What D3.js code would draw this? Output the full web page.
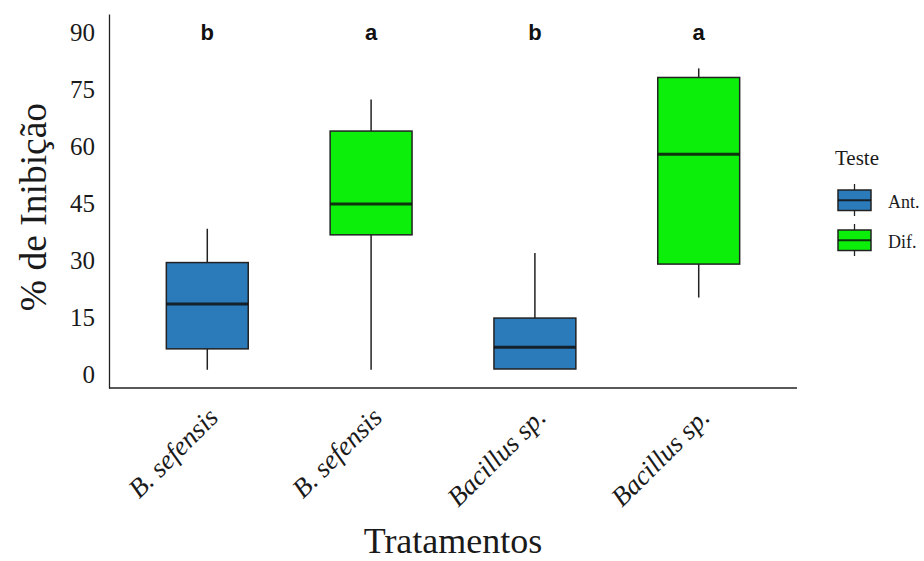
<!DOCTYPE html>
<html>
<head>
<meta charset="utf-8">
<script src="https://cdn.jsdelivr.net/npm/d3@7"></script>
<style>
  body { margin: 0; background: #fff; }
</style>
</head>
<body>
<div id="chart"></div>
<script>
// treatment labels (x axis), one box per treatment
const tratamentos = ["B. sefensis", "B. sefensis", "Bacillus sp.", "Bacillus sp."];
const teste = ["Ant.", "Dif.", "Ant.", "Dif."];
const letras = ["b", "a", "b", "a"];

// box statistics (% inhibition)
const minimos = [1.3, 1.3, 1.5, 20.3];
const q1s = [6.8, 36.8, 1.5, 29.1];
const medianas = [18.6, 44.9, 7.2, 58.0];
const q3s = [29.5, 64.1, 14.9, 78.2];
const maximos = [38.4, 72.4, 32.0, 80.6];

const yTicks = [0, 15, 30, 45, 60, 75, 90];
const grupos = ["Ant.", "Dif."];

const width = 924, height = 561;
const margin = { top: 14, right: 127, bottom: 173, left: 109 };

const color = d3.scaleOrdinal()
    .domain(grupos)
    .range(["#2b7bba", "#0bef0b"]);

const svg = d3.select("#chart")
    .append("svg")
    .attr("width", width)
    .attr("height", height);

const x = d3.scalePoint()
    .domain(d3.range(tratamentos.length))
    .range([margin.left, width - margin.right])
    .padding(0.6);

const y = d3.scaleLinear()
    .domain([-3.5, 94.9])
    .range([height - margin.bottom, margin.top]);

const boxW = x.step() * 0.5;

const boxes = tratamentos.map((t, i) => ({
    i, t, g: teste[i], letra: letras[i],
    min: minimos[i], q1: q1s[i], med: medianas[i], q3: q3s[i], max: maximos[i]
}));

// axes
const yAxis = svg.append("g")
    .attr("transform", `translate(${margin.left},0)`)
    .call(d3.axisLeft(y).tickValues(yTicks).tickSize(0).tickSizeOuter(0).tickPadding(14));
yAxis.select(".domain").attr("stroke", "#222").attr("stroke-width", 1.3);
yAxis.selectAll("text")
    .attr("font-family", "'Liberation Serif', 'Times New Roman', serif")
    .attr("font-size", "25px")
    .attr("fill", "#1a1a1a");

const xAxis = svg.append("g")
    .attr("transform", `translate(0,${height - margin.bottom})`)
    .call(d3.axisBottom(x).tickSize(0).tickSizeOuter(0).tickFormat(i => tratamentos[i]));
xAxis.select(".domain")
    .attr("d", `M${margin.left},0H${width - margin.right}`)
    .attr("stroke", "#222").attr("stroke-width", 1.3);
xAxis.selectAll("text")
    .attr("font-family", "'Liberation Serif', 'Times New Roman', serif")
    .attr("font-style", "italic")
    .attr("font-size", "27px")
    .attr("fill", "#1a1a1a")
    .attr("text-anchor", "end")
    .attr("dy", null)
    .attr("y", 0)
    .attr("transform", "translate(12,31) rotate(-45)");

// boxes
const g = svg.selectAll(".box")
    .data(boxes)
    .enter()
    .append("g")
    .attr("class", "box");

g.append("line")
    .attr("x1", d => x(d.i)).attr("x2", d => x(d.i))
    .attr("y1", d => y(d.max)).attr("y2", d => y(d.q3))
    .attr("stroke", "#222").attr("stroke-width", 1.5);

g.append("line")
    .attr("x1", d => x(d.i)).attr("x2", d => x(d.i))
    .attr("y1", d => y(d.q1)).attr("y2", d => y(d.min))
    .attr("stroke", "#222").attr("stroke-width", 1.5);

g.append("rect")
    .attr("x", d => x(d.i) - boxW / 2)
    .attr("width", boxW)
    .attr("y", d => y(d.q3))
    .attr("height", d => y(d.q1) - y(d.q3))
    .attr("fill", d => color(d.g))
    .attr("stroke", "#222")
    .attr("stroke-width", 1.5);

g.append("line")
    .attr("x1", d => x(d.i) - boxW / 2).attr("x2", d => x(d.i) + boxW / 2)
    .attr("y1", d => y(d.med)).attr("y2", d => y(d.med))
    .attr("stroke", "#111").attr("stroke-opacity", 0.85).attr("stroke-width", 3);

// significance letters
svg.selectAll(".letra")
    .data(boxes)
    .enter()
    .append("text")
    .attr("class", "letra")
    .attr("x", d => x(d.i))
    .attr("y", y(90))
    .attr("dy", "0.35em")
    .attr("text-anchor", "middle")
    .attr("font-family", "'Liberation Sans', Arial, sans-serif")
    .attr("font-weight", "bold")
    .attr("font-size", "22px")
    .attr("fill", "#111")
    .text(d => d.letra);

// axis titles
svg.append("text")
    .attr("x", (margin.left + width - margin.right) / 2)
    .attr("y", 553)
    .attr("text-anchor", "middle")
    .attr("font-family", "'Liberation Serif', 'Times New Roman', serif")
    .attr("font-size", "36px")
    .attr("fill", "#1a1a1a")
    .text("Tratamentos");

svg.append("text")
    .attr("transform", `translate(46,${(margin.top + height - margin.bottom) / 2 + 6}) rotate(-90)`)
    .attr("text-anchor", "middle")
    .attr("font-family", "'Liberation Serif', 'Times New Roman', serif")
    .attr("font-size", "37.5px")
    .attr("fill", "#1a1a1a")
    .text("% de Inibição");

// legend
const legend = svg.append("g").attr("transform", "translate(835,0)");
legend.append("text")
    .attr("x", 0).attr("y", 165)
    .attr("font-family", "'Liberation Serif', 'Times New Roman', serif")
    .attr("font-size", "21px")
    .attr("fill", "#1a1a1a")
    .text("Teste");

const item = legend.selectAll(".item")
    .data(grupos)
    .enter()
    .append("g")
    .attr("class", "item")
    .attr("transform", (d, i) => `translate(3,${184 + i * 40})`);

item.append("line")
    .attr("x1", 16.5).attr("x2", 16.5).attr("y1", 0).attr("y2", 32)
    .attr("stroke", "#222").attr("stroke-width", 1.3);
item.append("rect")
    .attr("x", 0).attr("y", 6).attr("width", 33).attr("height", 20.5)
    .attr("fill", d => color(d)).attr("stroke", "#222").attr("stroke-width", 1.5);
item.append("line")
    .attr("x1", 0).attr("x2", 33).attr("y1", 16.25).attr("y2", 16.25)
    .attr("stroke", "#111").attr("stroke-opacity", 0.85).attr("stroke-width", 2);
item.append("text")
    .attr("x", 50).attr("y", 24)
    .attr("font-family", "'Liberation Serif', 'Times New Roman', serif")
    .attr("font-size", "18px")
    .attr("fill", "#1a1a1a")
    .text(d => d);
</script>
</body>
</html>
